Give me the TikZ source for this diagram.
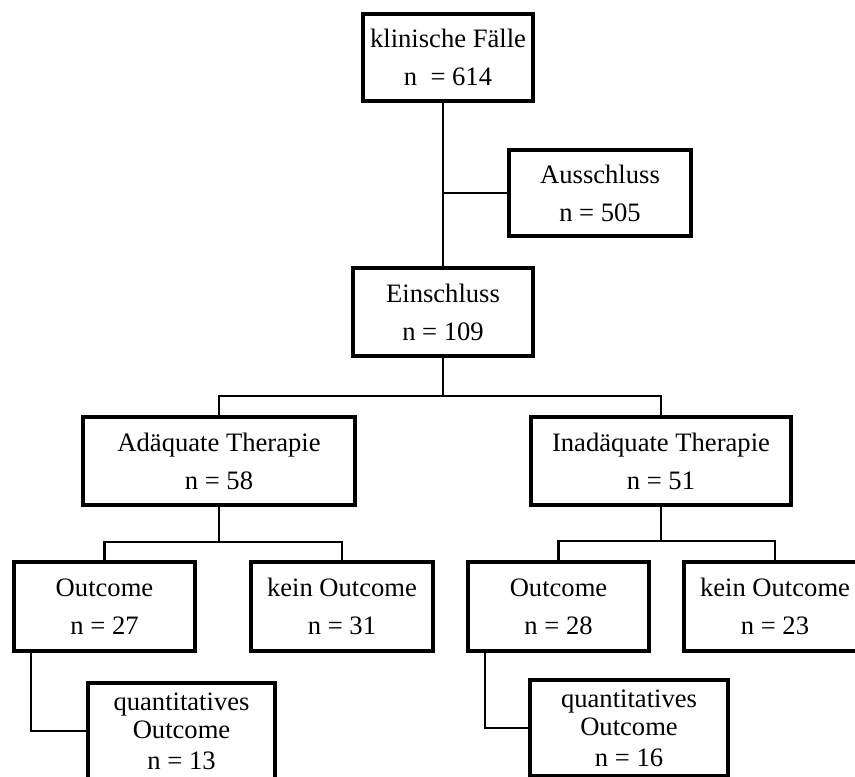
\documentclass[tikz,border=0pt]{standalone}
\usepackage{fontspec}
\setmainfont{Liberation Serif}
\usepackage{tikz}

\begin{document}
\begin{tikzpicture}[x=0.5pt,y=-0.5pt,
    box/.style={draw,line width=2pt,minimum height=44pt,inner sep=0pt,align=center,
      font=\fontsize{13.3}{19}\selectfont},
    link/.style={line width=1.4pt}]
    \useasboundingbox (0,0) rectangle (855,776);
    \node[box,minimum width=85pt,minimum height=43.5pt] (kf) at (448,57.5) {klinische F\"alle\\n~ = 614};
    \node[box,minimum width=91pt,minimum height=43pt] (aus) at (600,193) {Ausschluss\\n = 505};
    \node[box,minimum width=90pt] (ein) at (443,312) {Einschluss\\n = 109};
    \node[box,minimum width=136pt] (adq) at (219,461) {Ad\"aquate Therapie\\n = 58};
    \node[box,minimum width=130pt] (inq) at (661,461) {Inad\"aquate Therapie\\n = 51};
    \node[box,minimum width=90.5pt,minimum height=44.5pt] (o1) at (104.5,606.5) {Outcome\\n = 27};
    \node[box,minimum width=91pt,minimum height=44.5pt] (k1) at (342,606.5) {kein Outcome\\n = 31};
    \node[box,minimum width=90.5pt,minimum height=44.5pt] (o2) at (558.5,606.5) {Outcome\\n = 28};
    \node[box,minimum width=91pt,minimum height=44.5pt] (k2) at (775,606.5) {kein Outcome\\n = 23};
    \node[box,minimum width=93.5pt,minimum height=48pt] (q1) at (181.5,731) {quantitatives\\[-5pt]Outcome\\[-3.5pt]n = 13};
    \node[box,minimum width=99pt,minimum height=48pt] (q2) at (629,728) {quantitatives\\[-5pt]Outcome\\[-3.5pt]n = 16};
    \coordinate (j1) at ([yshift=-19pt]ein.south);
    \coordinate (j2) at ([yshift=-17.5pt]adq.south);
    \coordinate (j3) at ([yshift=-17pt]inq.south);
    \draw[link] (kf.south -| ein.north) -- (ein.north);
    \draw[link] (ein.north |- aus.west) -- (aus.west);
    \draw[link] (ein.south) -- (j1);
    \draw[link] (adq.north) |- (j1) -| (inq.north);
    \draw[link] (adq.south) -- (j2);
    \draw[link] (o1.north) |- (j2) -| (k1.north);
    \draw[link] (inq.south) -- (j3);
    \draw[link] (o2.north) |- (j3) -| (k2.north);
    \draw[link] ([xshift=9.5pt]o1.south west) |- (q1.west);
    \draw[link] ([xshift=9.5pt]o2.south west) |- (q2.west);
  \end{tikzpicture}
\end{document}
